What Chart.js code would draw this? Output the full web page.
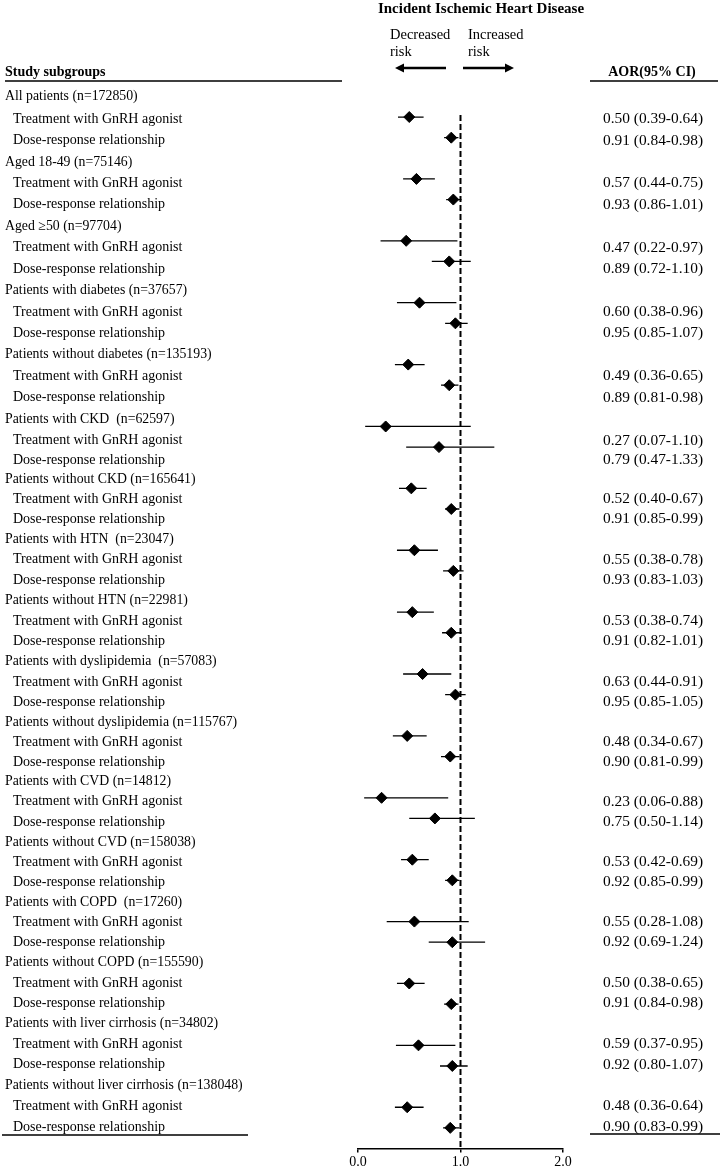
<!DOCTYPE html>
<html>
<head>
<meta charset="utf-8">
<script src="https://cdn.jsdelivr.net/npm/chart.js@4.4.1/dist/chart.umd.min.js"></script>
<style>
  html, body { margin: 0; padding: 0; background: #fff; }
  #wrap { position: relative; width: 724px; height: 1173px; }
</style>
</head>
<body>
<div id="wrap"><canvas id="forest"></canvas></div>
<script>
// subgroup names, in the order they are listed
const subgroups = [
  "All patients (n=172850)",
  "Aged 18-49 (n=75146)",
  "Aged \u226550 (n=97704)",
  "Patients with diabetes (n=37657)",
  "Patients without diabetes (n=135193)",
  "Patients with CKD  (n=62597)",
  "Patients without CKD (n=165641)",
  "Patients with HTN  (n=23047)",
  "Patients without HTN (n=22981)",
  "Patients with dyslipidemia  (n=57083)",
  "Patients without dyslipidemia (n=115767)",
  "Patients with CVD (n=14812)",
  "Patients without CVD (n=158038)",
  "Patients with COPD  (n=17260)",
  "Patients without COPD (n=155590)",
  "Patients with liver cirrhosis (n=34802)",
  "Patients without liver cirrhosis (n=138048)"
];
const rowLabels = ["Treatment with GnRH agonist", "Dose-response relationship"];

// Treatment with GnRH agonist: AOR and 95% CI
const treatOR = [0.50, 0.57, 0.47, 0.60, 0.49, 0.27, 0.52, 0.55, 0.53, 0.63, 0.48, 0.23, 0.53, 0.55, 0.50, 0.59, 0.48];
const treatLo = [0.39, 0.44, 0.22, 0.38, 0.36, 0.07, 0.40, 0.38, 0.38, 0.44, 0.34, 0.06, 0.42, 0.28, 0.38, 0.37, 0.36];
const treatHi = [0.64, 0.75, 0.97, 0.96, 0.65, 1.10, 0.67, 0.78, 0.74, 0.91, 0.67, 0.88, 0.69, 1.08, 0.65, 0.95, 0.64];

// Dose-response relationship: AOR and 95% CI
const doseOR = [0.91, 0.93, 0.89, 0.95, 0.89, 0.79, 0.91, 0.93, 0.91, 0.95, 0.90, 0.75, 0.92, 0.92, 0.91, 0.92, 0.90];
const doseLo = [0.84, 0.86, 0.72, 0.85, 0.81, 0.47, 0.85, 0.83, 0.82, 0.85, 0.81, 0.50, 0.85, 0.69, 0.84, 0.80, 0.83];
const doseHi = [0.98, 1.01, 1.10, 1.07, 0.98, 1.33, 0.99, 1.03, 1.01, 1.05, 0.99, 1.14, 0.99, 1.24, 0.98, 1.07, 0.99];

// x axis ticks
const xTicks = [0.0, 1.0, 2.0];

const SERIF = '"Liberation Serif", "Times New Roman", Times, serif';

// each subgroup takes 3 rows: header, treatment, dose-response
const rowOf = (g, k) => g * 3 + k;
const lastRow = subgroups.length * 3;

// build the points and CI segments
const orPoints = [];
const ciPoints = [];
subgroups.forEach((name, g) => {
  [[treatOR, treatLo, treatHi], [doseOR, doseLo, doseHi]].forEach(([or, lo, hi], i) => {
    const r = rowOf(g, i + 1);
    orPoints.push({ x: or[g], y: r });
    ciPoints.push({ x: lo[g], y: r }, { x: hi[g], y: r }, { x: null, y: null });
  });
});

// text in the original sits a few pixels off the marker rows
const textDrift = [[0, 0], [1, 2], [16, 14], [20, 10], [28, 8], [34, 4], [40, 0.5], [46, -1.5], [50, -1]];
function drift(row) {
  for (let i = 1; i < textDrift.length; i++) {
    const [r0, d0] = textDrift[i - 1], [r1, d1] = textDrift[i];
    if (row <= r1) return d0 + (d1 - d0) * (row - r0) / (r1 - r0);
  }
  return textDrift[textDrift.length - 1][1];
}

function arrow(ctx, x0, x1, y) {
  const dir = Math.sign(x1 - x0);
  ctx.beginPath();
  ctx.lineWidth = 2.5;
  ctx.moveTo(x0, y);
  ctx.lineTo(x1 - dir * 6, y);
  ctx.stroke();
  ctx.beginPath();
  ctx.moveTo(x1, y);
  ctx.lineTo(x1 - dir * 9, y - 4.5);
  ctx.lineTo(x1 - dir * 9, y + 4.5);
  ctx.closePath();
  ctx.fill();
}

const forestText = {
  id: "forestText",
  beforeDraw(chart) {
    const ctx = chart.ctx;
    ctx.save();
    ctx.fillStyle = "#fff";
    ctx.fillRect(0, 0, chart.width, chart.height);
    ctx.restore();
  },
  afterDraw(chart) {
    const ctx = chart.ctx;
    const y = chart.scales.y;
    ctx.save();
    ctx.fillStyle = "#000";
    ctx.strokeStyle = "#000";
    ctx.textBaseline = "middle";

    // headings
    ctx.font = "bold 15px " + SERIF;
    ctx.textAlign = "center";
    ctx.fillText("Incident Ischemic Heart Disease", 481, 9);

    ctx.font = "14.5px " + SERIF;
    ctx.textAlign = "left";
    ctx.fillText("Decreased", 390, 35);
    ctx.fillText("risk", 390, 52);
    ctx.fillText("Increased", 468, 35);
    ctx.fillText("risk", 468, 52);
    arrow(ctx, 446, 395, 68);
    arrow(ctx, 463, 514, 68);

    ctx.font = "bold 14px " + SERIF;
    ctx.fillText("Study subgroups", 5, 72);
    ctx.textAlign = "center";
    ctx.fillText("AOR(95% CI)", 652, 72);

    // rules
    ctx.lineWidth = 1.5;
    ctx.beginPath();
    ctx.moveTo(5, 81); ctx.lineTo(342, 81);
    ctx.moveTo(590, 81); ctx.lineTo(718, 81);
    ctx.moveTo(2, 1135); ctx.lineTo(248, 1135);
    ctx.moveTo(590, 1134); ctx.lineTo(720, 1134);
    ctx.stroke();

    // row labels and AOR text
    ctx.textAlign = "left";
    subgroups.forEach((name, g) => {
      const r0 = rowOf(g, 0);
      ctx.font = "13.8px " + SERIF;
      ctx.fillText(name, 5, y.getPixelForValue(r0) + drift(r0));
      [[treatOR, treatLo, treatHi], [doseOR, doseLo, doseHi]].forEach(([or, lo, hi], i) => {
        const r = rowOf(g, i + 1);
        const py = y.getPixelForValue(r) + drift(r);
        ctx.font = "14px " + SERIF;
        ctx.fillText(rowLabels[i], 13, py);
        ctx.font = "15.4px " + SERIF;
        ctx.fillText(`${or[g].toFixed(2)} (${lo[g].toFixed(2)}-${hi[g].toFixed(2)})`, 603, py);
      });
    });
    ctx.restore();
  }
};

const ctx = document.getElementById("forest").getContext("2d");
new Chart(ctx, {
  type: "scatter",
  data: {
    datasets: [
      {
        label: "AOR",
        data: orPoints,
        pointStyle: "rectRot",
        pointRadius: 5.5,
        backgroundColor: "#000",
        borderColor: "#000",
        borderWidth: 1
      },
      {
        label: "95% CI",
        data: ciPoints,
        showLine: true,
        spanGaps: false,
        borderColor: "#000",
        borderWidth: 1.3,
        pointRadius: 0
      },
      {
        label: "AOR = 1",
        data: [{ x: 1, y: 0.9 }, { x: 1, y: lastRow }],
        showLine: true,
        borderColor: "#000",
        borderWidth: 2,
        borderDash: [6, 3],
        pointRadius: 0
      }
    ]
  },
  options: {
    responsive: true,
    maintainAspectRatio: false,
    animation: false,
    layout: { padding: { left: 358, right: 161, top: 96.4, bottom: 0 } },
    plugins: { legend: { display: false }, tooltip: { enabled: false } },
    scales: {
      x: {
        type: "linear",
        min: xTicks[0],
        max: xTicks[xTicks.length - 1],
        afterFit(scale) { scale.height = 24.5; },
        afterBuildTicks(scale) { scale.ticks = xTicks.map(v => ({ value: v })); },
        ticks: {
          callback: v => v.toFixed(1),
          font: { family: SERIF, size: 14 },
          color: "#000",
          padding: 1,
          maxRotation: 0
        },
        grid: { drawOnChartArea: false, tickLength: 4, color: "#000", lineWidth: 1.5 },
        border: { color: "#000", width: 1.5 }
      },
      y: { type: "linear", reverse: true, min: 0, max: lastRow, display: false }
    }
  },
  plugins: [forestText]
});
</script>
</body>
</html>
